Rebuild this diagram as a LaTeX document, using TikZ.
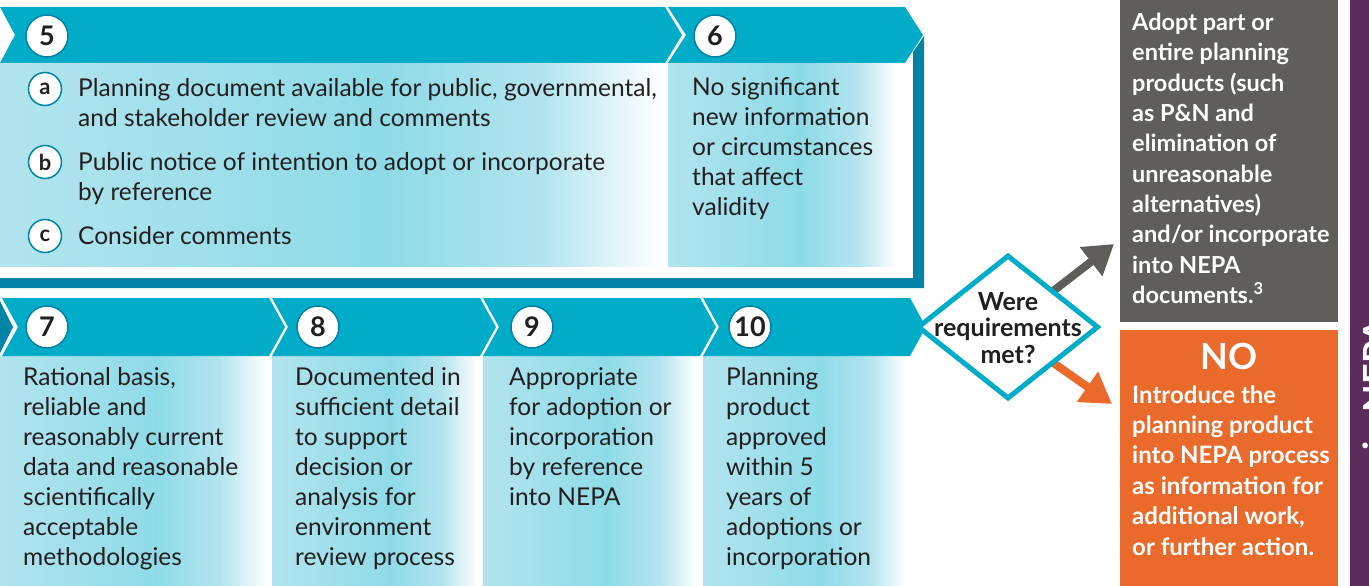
\documentclass[tikz,border=0pt]{standalone}
\usepackage{fontspec}
\setmainfont{Lato}
\usetikzlibrary{shapes.geometric, arrows.meta, positioning}

\definecolor{bandteal}{HTML}{00ACC8}
\definecolor{frameteal}{HTML}{0083A4}
\definecolor{paleblue}{HTML}{B2E4EE}
\definecolor{midblue}{HTML}{8EDBE7}
\definecolor{inkgray}{HTML}{231F20}
\definecolor{boxgray}{HTML}{5F5E5A}
\definecolor{boxorange}{HTML}{E96A2A}
\definecolor{sidepurple}{HTML}{5C2D5C}

\pgfdeclarehorizontalshading{colfade}{100bp}{color(0bp)=(paleblue); color(25bp)=(paleblue); color(54bp)=(midblue); color(66bp)=(paleblue); color(75bp)=(white); color(100bp)=(white)}

\begin{document}
\begin{tikzpicture}[
    x=1pt, y=-1pt,
    band/.style = {fill=bandteal},
    panel/.style = {shading=colfade},
    numcircle/.style = {circle, draw=frameteal, line width=1.5pt, fill=white, minimum size=42pt, inner sep=0pt, text=inkgray, font=\bfseries\fontsize{27}{27}\selectfont},
    subcircle/.style = {circle, draw=frameteal, line width=1.5pt, fill=white, minimum size=33pt, inner sep=0pt, text=inkgray, font=\bfseries\fontsize{22}{22}\selectfont},
    bodytext/.style = {anchor=north west, align=left, inner sep=0pt, text=inkgray, font=\fontsize{24.5}{30}\selectfont},
    decision/.style = {diamond, draw=bandteal, line width=5pt, fill=white, minimum width=181pt, minimum height=144pt, inner sep=0pt},
    decisiontext/.style = {align=center, inner sep=0pt, text=inkgray, font=\bfseries\fontsize{25}{26.5}\selectfont},
    graybox/.style = {rectangle, fill=boxgray, minimum width=218pt, minimum height=322pt, inner sep=0pt},
    orangebox/.style = {rectangle, fill=boxorange, minimum width=218pt, minimum height=256pt, inner sep=0pt},
    whitetext/.style = {anchor=north west, align=left, inner sep=0pt, text=white, font=\bfseries\fontsize{24}{30.4}\selectfont},
    yesarrow/.style = {draw=boxgray, line width=8pt, -{Triangle[length=29pt, width=35pt]}},
    noarrow/.style = {draw=boxorange, line width=8pt, -{Triangle[length=30pt, width=35pt]}}
]
\useasboundingbox (0,0) rectangle (1369,586);

% Panels
\shade[panel] (0,63) rectangle (662,266);
\shade[panel] (668,63) rectangle (897,266);
\shade[panel] (0,356) rectangle (268,586);
\shade[panel] (272,356) rectangle (478,586);
\shade[panel] (483,356) rectangle (697,586);
\shade[panel] (703,356) rectangle (906,586);

% Frame round steps 5 and 6
\fill[frameteal] (924,36) -- (924,288) -- (0,288) -- (0,278) -- (913,278) -- (913,52) -- cycle;

% Chevron bands
\fill[band] (0,7) -- (665,7) -- (682,35) -- (665,63) -- (0,63) -- (15,35) -- cycle;
\fill[band] (668,7) -- (905,7) -- (923,35) -- (905,63) -- (668,63) -- (686,35) -- cycle;
\fill[frameteal] (0,301) -- (13,327) -- (0,353) -- cycle;
\fill[band] (2,298) -- (269,298) -- (285,327) -- (269,356) -- (2,356) -- (18,327) -- cycle;
\fill[band] (272,298) -- (480,298) -- (496,327) -- (480,356) -- (272,356) -- (288,327) -- cycle;
\fill[band] (483,298) -- (700,298) -- (716,327) -- (700,356) -- (483,356) -- (499,327) -- cycle;
\fill[band] (703,298) -- (910,298) -- (926,327) -- (910,356) -- (703,356) -- (719,327) -- cycle;

% Step numbers
\node[numcircle] (n5) at (47,36) {5};
\node[numcircle] (n6) at (715,36) {6};
\node[numcircle] (n7) at (47,327) {7};
\node[numcircle] (n8) at (318,327) {8};
\node[numcircle] (n9) at (532,327) {9};
\node[numcircle] (n10) at (750,327) {10};

% Step 5 items
\node[subcircle] (ia) at (45,89) {a};
\node[subcircle] (ib) at (45,162) {b};
\node[subcircle] (ic) at (45,236) {c};
\node[bodytext] (ta) at (78,78) {Planning document available for public, governmental,\\and stakeholder review and comments};
\node[bodytext] (tb) at (78,152) {Public notice of intention to adopt or incorporate\\by reference};
\node[bodytext] (tc) at (78,226) {Consider comments};

% Column texts
\node[bodytext] (t6) at (692,77) {No significant\\new information\\or circumstances\\that affect\\validity};
\node[bodytext] (t7) at (23,367) {Rational basis,\\reliable and\\reasonably current\\data and reasonable\\scientifically\\acceptable\\methodologies};
\node[bodytext] (t8) at (295,367) {Documented in\\sufficient detail\\to support\\decision or\\analysis for\\environment\\review process};
\node[bodytext] (t9) at (509,367) {Appropriate\\for adoption or\\incorporation\\by reference\\into NEPA};
\node[bodytext] (t10) at (726,367) {Planning\\product\\approved\\within 5\\years of\\adoptions or\\incorporation};

% Outcome boxes
\node[graybox, anchor=north west] (adopt) at (1120,0) {};
\node[whitetext, font=\bfseries\fontsize{23.5}{30.3}\selectfont] (adopttext) at (1132,13) {Adopt part or\\entire planning\\products (such\\as P\&N and\\elimination of\\unreasonable\\alternatives)\\and/or incorporate\\into NEPA\\documents.\textsuperscript{3}};
\node[orangebox, anchor=north west] (nobox) at (1120,330) {};
\node[text=white, font=\bfseries\fontsize{36}{36}\selectfont, inner sep=0pt] (notitle) at (1229,356) {NO};
\node[whitetext] (notext) at (1132,385) {Introduce the\\planning product\\into NEPA process\\as information for\\additional work,\\or further action.};

% Side strip
\fill[sidepurple] (1350,0) rectangle (1369,586);
\node[rotate=90, anchor=base east, inner sep=0pt, text=white, font=\bfseries\fontsize{36}{36}\selectfont] (nepalabel) at (1389,318) {in NEPA};

% Decision
\coordinate (yestip) at (1114,244);
\coordinate (notip) at (1112,404);
\draw[yesarrow] (1052,292) -- (yestip);
\draw[noarrow] (1052,362) -- (notip);
\node[decision] (diam) at (1008,327) {};
\node[decisiontext] (diamtext) at ([yshift=-1pt]diam) {Were\\requirements\\met?};

\end{tikzpicture}
\end{document}
